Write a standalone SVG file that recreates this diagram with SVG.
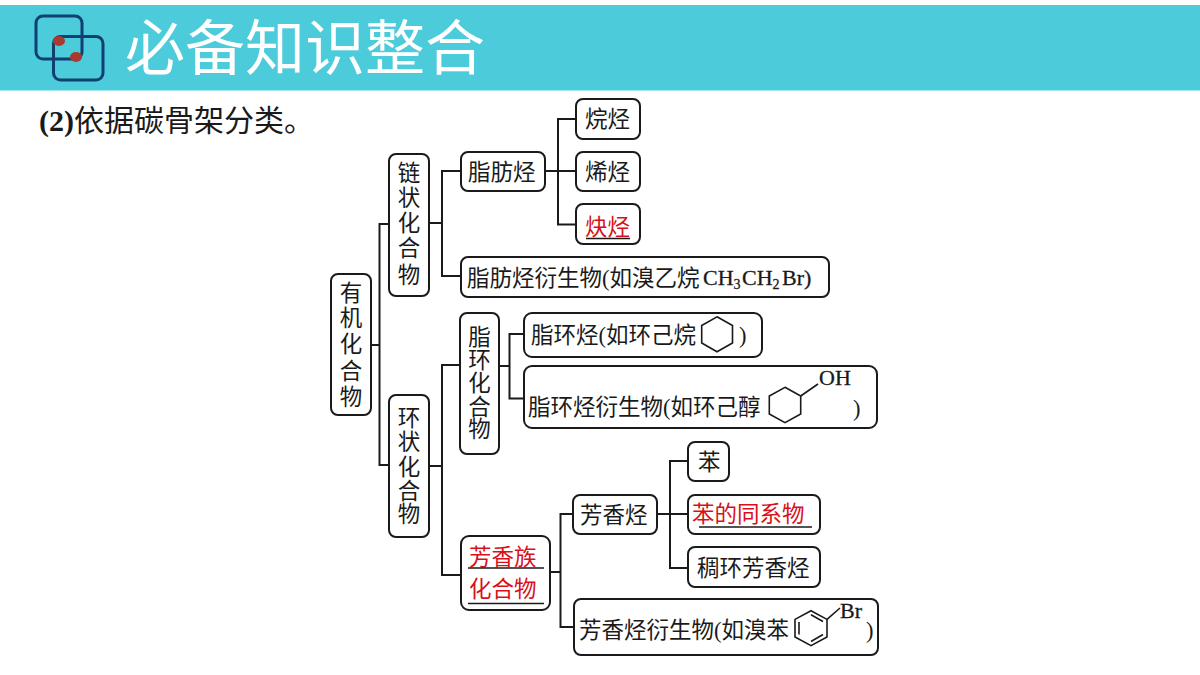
<svg xmlns="http://www.w3.org/2000/svg" width="1200" height="675" viewBox="0 0 1200 675">
<style>
text{font-family:"Liberation Serif","Noto Sans CJK SC",serif;fill:#1a1a1a}
.n rect{fill:#fff;stroke:#1a1a1a;stroke-width:2}
.t{font-size:22.500px}
.m{text-anchor:middle}
.r{fill:#d8101a}
.u{stroke:#1a1a1a;stroke-width:1.500;fill:none}
.l{font-size:22px;stroke:#1a1a1a;stroke-width:.3}
.s{font-size:14px}
#connectors path{fill:none;stroke:#1a1a1a;stroke-width:2}
.ring{fill:none;stroke:#1a1a1a;stroke-width:1.600}
</style>
<rect width="1200" height="675" fill="#fff"/>
<g id="banner">
<rect x="0" y="5" width="1200" height="85.500" fill="#4ccbdb"/>
<rect x="36" y="16" width="46" height="43" rx="7" fill="none" stroke="#103f72" stroke-width="3"/>
<rect x="53.500" y="36.500" width="49.500" height="43.500" rx="7" fill="none" stroke="#103f72" stroke-width="3"/>
<ellipse cx="59" cy="41" rx="6" ry="5" fill="#a83a30"/>
<ellipse cx="76" cy="57" rx="6" ry="5" fill="#a83a30"/>
<text x="125" y="70" font-size="60" style="font-family:'Noto Sans CJK SC',sans-serif;fill:#fff">必备知识整合</text>
</g>
<text id="subtitle" x="39" y="131" font-size="30"><tspan font-weight="bold">(2)</tspan>依据碳骨架分类。</text>
<g id="connectors">
<path d="M371 345H379.500M389 224H379.500V465H389"/>
<path d="M429 223H442M461 171H442V276H461"/>
<path d="M545 171H576M576 119H558V224.500H576"/>
<path d="M429 466H442M460 365H442V575H461"/>
<path d="M499 366H509.500M524 334H509.500V398.500H524"/>
<path d="M550 572H560.500M573 514H560.500V627H574"/>
<path d="M657 514H688M688 461H670V568H688"/>
</g>
<g id="n-youji" class="n"><rect x="331" y="274" width="40" height="141" rx="7"/><text class="t m" x="351 351 351 351 351" y="301 326 352 379 405">有机化合物</text></g>
<g id="n-lianzhuang" class="n"><rect x="389" y="154" width="40" height="142" rx="7"/><text class="t m" x="409 409 409 409 409" y="181 206 231 256 283">链状化合物</text></g>
<g id="n-huanzhuang" class="n"><rect x="389" y="395" width="40" height="142" rx="7"/><text class="t m" x="409 409 409 409 409" y="426 450 475 499 522">环状化合物</text></g>
<g id="n-zhifangting" class="n"><rect x="461" y="152" width="84" height="39" rx="7"/><text class="t" x="468" y="180">脂肪烃</text></g>
<g id="n-wanting" class="n"><rect x="576" y="99" width="64" height="40" rx="7"/><text class="t" x="585" y="127">烷烃</text></g>
<g id="n-xiting" class="n"><rect x="576" y="152" width="64" height="39" rx="7"/><text class="t" x="585" y="180">烯烃</text></g>
<g id="n-queting" class="n"><rect x="576" y="204" width="64" height="40" rx="7"/><text class="t r" x="585" y="235">炔烃</text><path class="u" d="M586 238.500H630"/></g>
<g id="n-zhifang-der" class="n"><rect x="461" y="257" width="368" height="40" rx="7"/><text class="t" x="467" y="286">脂肪烃衍生物(如溴乙烷</text><text class="l" x="703" y="285">CH<tspan class="s" dy="4">3</tspan></text><text class="l" x="742" y="285">CH<tspan class="s" dy="4">2</tspan></text><text class="l" x="782" y="285">Br)</text></g>
<g id="n-zhihuan" class="n"><rect x="460" y="313" width="39" height="141" rx="7"/><text class="t m" x="479.500 479.500 479.500 479.500 479.500" y="345 368 391 415 437">脂环化合物</text></g>
<g id="n-zhihuanting" class="n"><rect x="524" y="313" width="238" height="44" rx="8"/><text class="t" x="531" y="343">脂环烃(如环己烷</text><polygon class="ring" points="717,316.800 732.500,325.500 732.500,343 717,351.800 701.700,343 701.700,325.500"/><text class="t" x="739" y="343">)</text></g>
<g id="n-zhihuan-der" class="n"><rect x="524" y="366" width="353" height="62" rx="8"/><text class="t" x="528" y="415">脂环烃衍生物(如环己醇</text><polygon class="ring" points="785,387.300 800.700,396 800.700,414 785,422.700 769.300,414 769.300,396"/><path class="ring" d="M800.700 396L818 384"/><text class="l" x="819" y="385">OH</text><text class="t" x="853" y="416">)</text></g>
<g id="n-fangxiangzu" class="n"><rect x="461" y="536" width="89" height="74" rx="8"/><text class="t r" x="469" y="565">芳香族</text><path class="u" d="M468 568H544"/><text class="t r" x="469" y="597">化合物</text><path class="u" d="M468 603.500H544"/></g>
<g id="n-fangxiangting" class="n"><rect x="573" y="495" width="84" height="39" rx="7"/><text class="t" x="580" y="523">芳香烃</text></g>
<g id="n-ben" class="n"><rect x="688" y="442" width="41" height="39" rx="7"/><text class="t" x="698" y="470">苯</text></g>
<g id="n-bentongxi" class="n"><rect x="688" y="495" width="132" height="39" rx="7"/><text class="t r" x="692" y="522">苯的同系物</text><path class="u" d="M699 527H812"/></g>
<g id="n-chouhuan" class="n"><rect x="688" y="547" width="132" height="40" rx="7"/><text class="t" x="697" y="576">稠环芳香烃</text></g>
<g id="n-fangxiang-der" class="n"><rect x="574" y="599" width="304" height="56" rx="7"/><text class="t" x="579" y="638">芳香烃衍生物(如溴苯</text><polygon class="ring" points="811,610.700 827,619.400 827,637 811,645.700 795,637 795,619.400"/><path class="ring" d="M799 622V634.500M811 614.800L823 621.500M811 641.500L823 634.500M827 619.400L840 608"/><text class="l" x="840" y="618">Br</text><text class="t" x="866" y="638">)</text></g>
</svg>
